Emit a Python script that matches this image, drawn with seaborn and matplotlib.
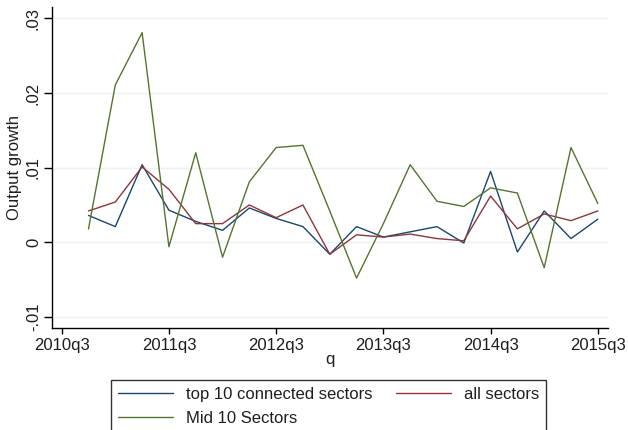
import matplotlib
matplotlib.use("Agg")
import matplotlib.pyplot as plt
import seaborn as sns
import pandas as pd
import numpy as np

quarters = ["2010q4", "2011q1", "2011q2", "2011q3", "2011q4", "2012q1", "2012q2",
            "2012q3", "2012q4", "2013q1", "2013q2", "2013q3", "2013q4", "2014q1",
            "2014q2", "2014q3", "2014q4", "2015q1", "2015q2", "2015q3"]
top10 = [0.0036, 0.0021, 0.0104, 0.0043, 0.0028, 0.0016, 0.0046, 0.0032, 0.0021, -0.0016,
         0.0021, 0.0007, 0.0014, 0.0021, -0.0001, 0.0095, -0.0013, 0.0042, 0.0005, 0.0031]
all_sectors = [0.0042, 0.0054, 0.0101, 0.0071, 0.0025, 0.0025, 0.0050, 0.0033, 0.0050, -0.0016,
               0.0010, 0.0007, 0.0011, 0.0005, 0.0002, 0.0062, 0.0018, 0.0038, 0.0029, 0.0042]
mid10 = [0.0018, 0.0211, 0.0281, -0.0006, 0.0120, -0.0020, 0.0081, 0.0127, 0.0130, 0.0042,
         -0.0048, 0.0025, 0.0104, 0.0055, 0.0048, 0.0073, 0.0066, -0.0034, 0.0127, 0.0052]
series_names = ["top 10 connected sectors", "all sectors", "Mid 10 Sectors"]
xtick_labels = ["2010q3", "2011q3", "2012q3", "2013q3", "2014q3", "2015q3"]
ytick_values = [-0.01, 0, 0.01, 0.02, 0.03]
ytick_labels = ["-.01", "0", ".01", ".02", ".03"]

# quarter index relative to 2010q3
qidx = list(range(1, len(quarters) + 1))
df = pd.concat([
    pd.DataFrame({"q": qidx, "val": top10, "series": series_names[0]}),
    pd.DataFrame({"q": qidx, "val": all_sectors, "series": series_names[1]}),
    pd.DataFrame({"q": qidx, "val": mid10, "series": series_names[2]}),
])

sns.set_theme(style="white")
plt.rcParams["font.family"] = ["Liberation Sans", "DejaVu Sans"]

palette = {series_names[0]: "#1a476f", series_names[1]: "#90353b", series_names[2]: "#55752f"}
FS = 12

fig = plt.figure(figsize=(6.28, 4.30), dpi=100)
fig.patch.set_facecolor("white")
ax = fig.add_axes([52 / 628, 1 - 328.3 / 430, (608 - 52) / 628, (328.3 - 7) / 430])
sns.lineplot(data=df, x="q", y="val", hue="series", palette=palette, hue_order=series_names,
             linewidth=1.0, ax=ax, legend=True)

ax.set_xlim(-0.362, 20.38)
ax.set_ylim(-0.01153, 0.03154)
ax.set_xticks([0, 4, 8, 12, 16, 20])
ax.set_xticklabels(xtick_labels)
ax.set_yticks(ytick_values)
ax.set_yticklabels(ytick_labels, rotation=90, va="center")
ax.grid(axis="y", color="#eaf2f3", linewidth=1.0)
ax.set_axisbelow(True)
for s in ["top", "right"]:
    ax.spines[s].set_visible(False)
for s in ["left", "bottom"]:
    ax.spines[s].set_color("#000000")
    ax.spines[s].set_linewidth(1.0)
ax.tick_params(axis="both", which="major", direction="out", width=1,
               color="#000000", labelsize=FS, labelcolor="#1e1e1e", bottom=True, left=True, pad=3)
ax.tick_params(axis="x", length=4)
ax.tick_params(axis="y", length=6, pad=2)
ax.set_xlabel("q", fontsize=FS, color="#1e1e1e", labelpad=-1)
ax.set_ylabel("Output growth", fontsize=FS, color="#1e1e1e", labelpad=3)

handles, labels = ax.get_legend_handles_labels()
if ax.get_legend():
    ax.get_legend().remove()
order = [0, 2, 1]
leg = fig.legend([handles[i] for i in order], [labels[i] for i in order],
                 loc="upper left", bbox_to_anchor=(111 / 628, 1 - 380 / 430),
                 bbox_transform=fig.transFigure, ncol=2, frameon=True, fancybox=False,
                 fontsize=FS, handlelength=3.3, handletextpad=0.8, columnspacing=1.4,
                 borderaxespad=0, borderpad=0.4, labelspacing=0.55)
leg.get_frame().set_edgecolor("#000000")
leg.get_frame().set_linewidth(1.0)
for t in leg.get_texts():
    t.set_color("#1e1e1e")

fig.savefig("out.png", dpi=100)
